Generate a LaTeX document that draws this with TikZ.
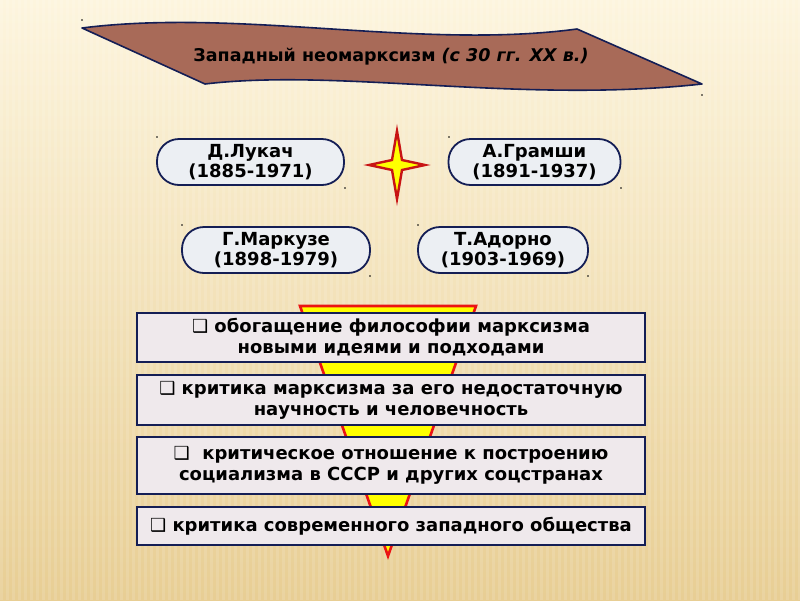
\documentclass[tikz,border=0pt]{standalone}
\usepackage{fontspec}
\setmainfont{DejaVu Sans}
\definecolor{bgtop}{RGB}{253,245,222}
\definecolor{bgbot}{RGB}{232,206,148}
\definecolor{bannerc}{RGB}{168,106,88}
\definecolor{navy}{RGB}{20,30,85}
\definecolor{pillc}{RGB}{236,239,243}
\definecolor{boxc}{RGB}{239,233,236}
\definecolor{starred}{RGB}{200,20,20}
\definecolor{yel}{RGB}{255,255,0}
\definecolor{trired}{RGB}{235,20,20}
\tikzset{
  pillbox/.style={draw=navy, line width=1.8pt, fill=pillc, rounded corners=22pt,
    minimum width=#1, minimum height=46pt, align=center, inner sep=0pt,
    font=\fontsize{18}{19.5}\selectfont\bfseries},
  itembox/.style={draw=navy, line width=1.8pt, fill=boxc, minimum width=508pt,
    align=center, inner sep=0pt, font=\fontsize{18}{21}\selectfont\bfseries},
  speck/.style={fill=black, inner sep=0pt, minimum size=1.6pt, circle}
}
\begin{document}
\begin{tikzpicture}[x=1pt,y=-1pt]
\useasboundingbox (0,0) rectangle (800,600);
% background
\shade[top color=bgtop, bottom color=bgbot] (0,0) rectangle (800,600);
\foreach \i in {0,6,...,800} {\fill[white, opacity=0.12] (\i,0) rectangle (\i+2.5,600);}
% banner
\draw[fill=bannerc, draw=navy, line width=1.6pt, line join=round]
  (82,28) .. controls (240,8) and (420,50) .. (577,29)
  -- (702,84)
  .. controls (520,104) and (340,68) .. (205,84) -- cycle;
\node[font=\fontsize{17.5}{20}\selectfont\bfseries] (title) at (391,57)
  {Западный неомарксизм \textit{(с 30 гг. XX в.)}};
\node[speck] (s1) at (82,20) {};
\node[speck] (s2) at (702,95) {};
% star
\draw[fill=yel, draw=starred, line width=2.4pt, line join=miter]
  (397,131) -- (402,160) -- (425,165) -- (402,170) -- (397,199)
  -- (392,170) -- (369,165) -- (392,160) -- cycle;
% name pills
\node[pillbox=187pt] (lukach) at (250.5,162) {Д.Лукач\\(1885-1971)};
\node[pillbox=172pt] (gramsci) at (534.5,162) {А.Грамши\\(1891-1937)};
\node[pillbox=188pt] (marcuse) at (276,250) {Г.Маркузе\\(1898-1979)};
\node[pillbox=170pt] (adorno) at (503,250) {Т.Адорно\\(1903-1969)};
\node[speck] at (157,137) {};
\node[speck] at (345,188) {};
\node[speck] at (449,137) {};
\node[speck] at (621,188) {};
\node[speck] at (182,225) {};
\node[speck] at (370,276) {};
\node[speck] at (418,225) {};
\node[speck] at (588,276) {};
% triangle
\draw[fill=yel, draw=trired, line width=2.6pt, line join=miter]
  (300,306) -- (476,306) -- (388,556) -- cycle;
% item boxes
\node[itembox, minimum height=49pt] (b1) at (391,337.5)
  {❑ обогащение философии марксизма\\новыми идеями и подходами};
\node[itembox, minimum height=50pt] (b2) at (391,400)
  {❑ критика марксизма за его недостаточную\\научность и человечность};
\node[itembox, minimum height=57pt] (b3) at (391,465.5)
  {❑ \ критическое отношение к построению\\социализма в СССР и других соцстранах};
\node[itembox, minimum height=38pt] (b4) at (391,526)
  {❑ критика современного западного общества};
\end{tikzpicture}
\end{document}
